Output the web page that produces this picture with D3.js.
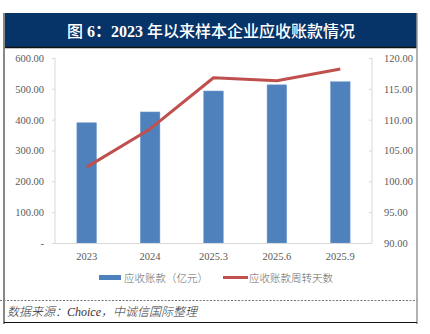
<!DOCTYPE html>
<html><head><meta charset="utf-8">
<script src="https://cdn.jsdelivr.net/npm/d3@7"></script>
<style>
body{margin:0;background:#fff;}
svg{display:block;}
</style></head>
<body>
<script>
const categories = ["2023","2024","2025.3","2025.6","2025.9"];
const receivables = [390, 425, 493, 513, 523];
const turnoverDays = [102.3, 108.5, 116.8, 116.3, 118.2];
const leftTicks = [0,100,200,300,400,500,600];
const rightTicks = [90,95,100,105,110,115,120];
const seriesNames = ["应收账款（亿元）","应收账款周转天数"];
const titleParts = [["图 ",false],["6：2023",true],[" 年以来样本企业应收账款情况",false]];
const sourceText = "数据来源：Choice，中诚信国际整理";

const W=430,H=334;
const svg=d3.select("body").append("svg").attr("width",W).attr("height",H);
const numFont='"Liberation Serif","Times New Roman",serif';
const cjkFont='"Liberation Serif","Noto Sans CJK SC",serif';

// frame
svg.append("rect").attr("x",4).attr("y",13).attr("width",413).attr("height",35).attr("fill","#063468");
svg.append("line").attr("x1",4).attr("x2",417).attr("y1",47.5).attr("y2",47.5).attr("stroke","#111").attr("stroke-width",1.5);
svg.append("line").attr("x1",4).attr("x2",4).attr("y1",13).attr("y2",324).attr("stroke","#888").attr("stroke-width",2);
svg.append("line").attr("x1",417).attr("x2",417).attr("y1",13).attr("y2",324).attr("stroke","#999").attr("stroke-width",1.5);
svg.append("line").attr("x1",4).attr("x2",417).attr("y1",322.5).attr("y2",322.5).attr("stroke","#111").attr("stroke-width",1.2);
svg.append("line").attr("x1",0).attr("x2",417).attr("y1",300.5).attr("y2",300.5).attr("stroke","#777").attr("stroke-width",1).attr("stroke-dasharray","2,1.5");

const tt=svg.append("text").attr("x",211).attr("y",37).attr("text-anchor","middle").attr("fill","#fff")
  .attr("font-family",cjkFont).attr("font-size",16);
titleParts.forEach(([t,b])=>tt.append("tspan").attr("font-weight",b?"bold":"500").text(t));

const x=d3.scaleBand().domain(categories).range([55,372]).paddingInner(0.69).paddingOuter(0.345);
const yL=d3.scaleLinear().domain([0,600]).range([243,58]);
const yR=d3.scaleLinear().domain([90,120]).range([243,58]);

// axes
const axL=svg.append("g").attr("transform","translate(55,0)")
  .call(d3.axisLeft(yL).tickValues(leftTicks).tickSize(3).tickPadding(8).tickFormat(d=>d===0?"-":d3.format(".2f")(d)));
const axR=svg.append("g").attr("transform","translate(372,0)")
  .call(d3.axisRight(yR).tickValues(rightTicks).tickSize(3).tickPadding(9).tickFormat(d3.format(".2f")));
[axL,axR].forEach(a=>{
  a.select(".domain").attr("stroke","#d9d9d9");
  a.selectAll(".tick line").attr("stroke","#d9d9d9");
  a.selectAll("text").attr("font-family",numFont).attr("font-size",10.5).attr("fill","#595959");
});
axR.selectAll(".tick line").attr("x2",-3);
axR.select(".domain").attr("d","M0,58V243");
axL.select(".domain").attr("d","M0,58V243");

// bars
svg.append("g").selectAll("rect").data(categories).join("rect")
  .attr("x",d=>x(d)).attr("width",x.bandwidth())
  .attr("y",(d,i)=>yL(receivables[i])).attr("height",(d,i)=>243-yL(receivables[i]))
  .attr("fill","#4F81BD").attr("stroke","#7aa0d0").attr("stroke-width",0.5);

// baseline
svg.append("line").attr("x1",55).attr("x2",372).attr("y1",243.5).attr("y2",243.5).attr("stroke","#d9d9d9");

// line
const line=d3.line().x((d,i)=>x(categories[i])+x.bandwidth()/2).y(d=>yR(d));
svg.append("path").datum(turnoverDays).attr("d",line).attr("fill","none")
  .attr("stroke","#C0504D").attr("stroke-width",3).attr("stroke-linejoin","round");

// x labels
svg.append("g").selectAll("text").data(categories).join("text")
  .attr("x",d=>x(d)+x.bandwidth()/2).attr("y",260).attr("text-anchor","middle")
  .attr("font-family",numFont).attr("font-size",10.5).attr("fill","#595959").text(d=>d);

// legend
const lg=svg.append("g");
lg.append("rect").attr("x",99).attr("y",275).attr("width",22).attr("height",5).attr("fill","#4F81BD");
lg.append("text").attr("x",124).attr("y",281.5).attr("font-family",cjkFont).attr("font-weight",300).attr("font-size",10.5).attr("fill","#666").text(seriesNames[0]);
lg.append("rect").attr("x",223).attr("y",276).attr("width",25).attr("height",3).attr("fill","#C0504D");
lg.append("text").attr("x",249).attr("y",281.5).attr("font-family",cjkFont).attr("font-weight",300).attr("font-size",10.5).attr("fill","#666").text(seriesNames[1]);

// source
svg.append("text").attr("x",7).attr("y",316).attr("font-family",cjkFont).attr("font-style","italic").attr("font-weight",300)
  .attr("font-size",12).attr("fill","#333").text(sourceText);
</script>
</body></html>
